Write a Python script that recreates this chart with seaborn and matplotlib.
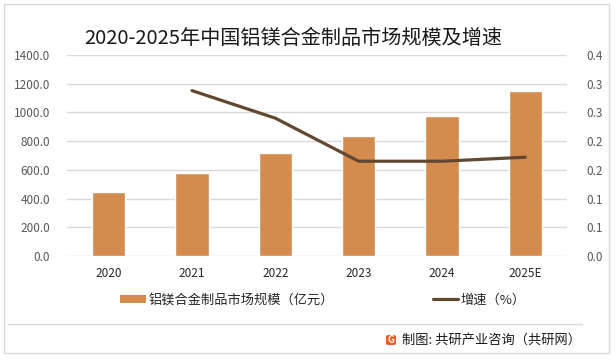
import numpy as np
import pandas as pd
import matplotlib
matplotlib.use("Agg")
import matplotlib.pyplot as plt
import seaborn as sns
from matplotlib.patches import Patch, Rectangle, FancyBboxPatch
from matplotlib.lines import Line2D

# ---- data ----
years = ["2020", "2021", "2022", "2023", "2024", "2025E"]
market_size = [445, 576, 716, 834, 973, 1148]          # 亿元
growth = [np.nan, 0.288, 0.240, 0.165, 0.165, 0.172]   # 增速

left_ticks = [0, 200, 400, 600, 800, 1000, 1200, 1400]
right_ticks = [0, 0.05, 0.10, 0.15, 0.20, 0.25, 0.30, 0.35]
right_labels = ["0.0", "0.1", "0.1", "0.2", "0.2", "0.3", "0.3", "0.4"]

title = "2020-2025年中国铝镁合金制品市场规模及增速"
bar_label = "铝镁合金制品市场规模（亿元）"
line_label = "增速（%）"
source = "制图: 共研产业咨询（共研网）"

BAR_COLOR = "#D38B4E"
LINE_COLOR = "#624830"
GRID_COLOR = "#D9D9D9"
TEXT_COLOR = "#595959"

sns.set_theme(style="white")
plt.rcParams["font.family"] = ["Noto Sans CJK SC", "DejaVu Sans"]

df = pd.DataFrame({"year": years, "size": market_size, "growth": growth})
df["pos"] = np.arange(len(df))

fig = plt.figure(figsize=(6.15, 3.61), dpi=100)
ax = fig.add_axes([67 / 615, 1 - 256 / 361, 500 / 615, 201 / 361])

# --- bars ---
sns.barplot(data=df, x="year", y="size", color=BAR_COLOR, width=0.4,
            saturation=1, ax=ax, zorder=2)
ax.set_ylim(0, 1400)
ax.set_xlim(-0.5, len(years) - 0.5)
ax.set_yticks(left_ticks)
ax.set_yticklabels([f"{v:.1f}" for v in left_ticks])
ax.yaxis.grid(True, color=GRID_COLOR, linewidth=1)
ax.set_axisbelow(True)
ax.set_xlabel("")
ax.set_ylabel("")
ax.tick_params(axis="both", length=0, labelsize=8.5, labelcolor=TEXT_COLOR)
ax.tick_params(axis="x", labelcolor="#262626", pad=8)
ax.tick_params(axis="y", pad=12)
for s in ax.spines.values():
    s.set_visible(False)

# --- growth line on secondary axis ---
ax2 = ax.twinx()
sns.lineplot(data=df.dropna(), x="pos", y="growth", color=LINE_COLOR,
             linewidth=2.3, ax=ax2)
ax2.set_ylim(0, 0.35)
ax2.set_xlim(-0.5, len(years) - 0.5)
ax2.set_yticks(right_ticks)
ax2.set_yticklabels(right_labels)
ax2.set_ylabel("")
ax2.tick_params(axis="y", length=0, labelsize=8.5, labelcolor=TEXT_COLOR, pad=14)
for s in ax2.spines.values():
    s.set_visible(False)

# --- title ---
fig.text(293 / 615, 1 - 38 / 361, title, ha="center", va="center",
         fontsize=14.5, color="#1a1a1a")

# --- legend ---
handles = [Patch(facecolor=BAR_COLOR, edgecolor="none"),
           Line2D([0], [0], color=LINE_COLOR, linewidth=2.3)]
fig.legend(handles, [bar_label, line_label], loc="center",
           bbox_to_anchor=(323 / 615, 1 - 300 / 361), ncol=2, frameon=False,
           fontsize=9.5, handlelength=1.9, handleheight=0.55,
           handletextpad=0.2, columnspacing=7.5)

# --- frame, footer line and source ---
fig.patches.append(Rectangle((4 / 615, 1 - 353 / 361), 605 / 615, 349 / 361,
                             transform=fig.transFigure, fill=False,
                             edgecolor=GRID_COLOR, linewidth=1))
fig.lines.append(Line2D([8 / 615, 582 / 615], [1 - 324 / 361, 1 - 324 / 361],
                        transform=fig.transFigure, color=GRID_COLOR, linewidth=1))
fig.patches.append(FancyBboxPatch((386 / 615, 1 - 345 / 361), 10 / 615, 10 / 361,
                                  boxstyle="round,pad=0,rounding_size=0.004",
                                  transform=fig.transFigure,
                                  facecolor="#F0592A", edgecolor="none"))
fig.text(391 / 615, 1 - 340 / 361, "G", ha="center", va="center",
         fontsize=7, color="white", fontweight="bold")
fig.text(402 / 615, 1 - 340 / 361, source, ha="left", va="center",
         fontsize=9.5, color="#1a1a1a")

fig.savefig("out.png", dpi=100)
